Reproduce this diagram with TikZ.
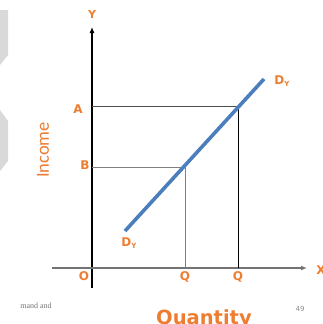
\documentclass[tikz,border=0pt]{standalone}
\usepackage{fontspec}
\usepackage{xcolor}
\usepackage{tikz}
\usetikzlibrary{positioning, arrows.meta}
\setmainfont{DejaVu Sans}
\newfontfamily\carlito{Carlito}
\newfontfamily\serifnote{Liberation Serif}
\definecolor{lblOrange}{RGB}{237, 125, 49}
\definecolor{curveBlue}{RGB}{74, 126, 189}
\definecolor{decoGray}{RGB}{217, 217, 217}

\begin{document}
\begin{tikzpicture}[
    x=1pt, y=-1pt,
    font=\bfseries\fontsize{12}{12}\selectfont,
    lbl/.style={text=lblOrange, inner sep=0pt},
    axis/.style={line width=1.1pt, -{Latex[length=6pt, width=5pt]}},
    guide/.style={line width=0.9pt},
    curve/.style={line width=3.6pt, curveBlue}
]
\useasboundingbox (0,0) rectangle (322,324);

% grey decoration on the left
\fill[decoGray] (0,10) -- (8,10) -- (8,55) -- (0,65) -- cycle;
\fill[decoGray] (0,110) -- (8,121) -- (8,161) -- (0,171) -- cycle;

% axes
\coordinate (ybot) at (92,288);
\coordinate (ytop) at (92,27);
\coordinate (xleft) at (52,268);
\coordinate (xright) at (307,268);
\draw[axis, black] (ybot) -- (ytop);
\draw[axis, black!55, line width=1.3pt] (xleft) -- (xright);

% guide lines
\coordinate (ya) at (92,106);
\coordinate (pa) at (238,106);
\coordinate (qa) at (238,268);
\coordinate (yb) at (92,167);
\coordinate (pb) at (185,167);
\coordinate (qb) at (185,268);
\draw[guide, black!70] (ya) -- (pa);
\draw[guide, black] (pa) -- (qa);
\draw[guide, black!50] (yb) -- (pb) -- (qb);

% demand curve
\coordinate (dlow) at (125,231);
\coordinate (dhigh) at (264,79);
\draw[curve] (dlow) -- (dhigh);

% labels
\node[lbl] (ylab) at (92,14) {\fontsize{11}{11}\selectfont Y};
\node[lbl] (xlab) at (321,270) {X};
\node[lbl] (alab) at (78,109) {A};
\node[lbl] (blab) at (85,165) {B};
\node[lbl] (olab) at (84,276) {O};
\node[lbl] (q1lab) at (185,277) {Q};
\node[lbl] (q2lab) at (238,277) {Q};
\node[lbl] (dtop) at (282,81) {D\raisebox{-0.35ex}{\fontsize{7}{7}\selectfont Y}};
\node[lbl] (dbot) at (129,243) {D\raisebox{-0.35ex}{\fontsize{7}{7}\selectfont Y}};

\node[lbl, rotate=90] (income) at (43,150) {\carlito\mdseries\fontsize{18.5}{18.5}\selectfont Income};
\node[lbl] (quantity) at (204,319) {\fontsize{19.5}{19.5}\selectfont Quantity};

\node[text=black!45, inner sep=0pt] (page) at (300,309) {\mdseries\fontsize{7}{7}\selectfont 49};
\node[text=black!55, inner sep=0pt] (note) at (36,306) {\serifnote\mdseries\fontsize{8}{8}\selectfont mand and};
\end{tikzpicture}
\end{document}
